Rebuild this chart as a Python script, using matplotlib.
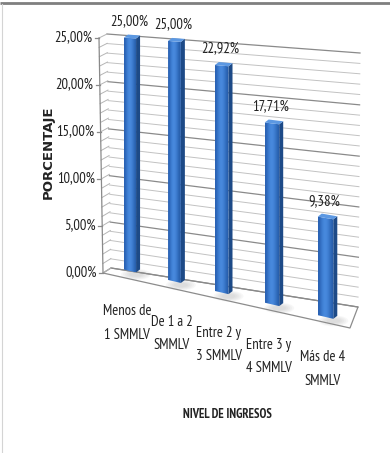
import numpy as np
import matplotlib.pyplot as plt
from matplotlib.patches import Polygon, Ellipse
from matplotlib.transforms import Transform

categories = ["Menos de\n1 SMMLV", "De 1 a 2\nSMMLV", "Entre 2 y\n3 SMMLV",
              "Entre 3 y\n4 SMMLV", "Más de 4\nSMMLV"]
values = [25.00, 25.00, 22.92, 17.71, 9.38]
ticks = [0, 5, 10, 15, 20, 25]
vmax = 25

NARROW = ['PT Sans Narrow', 'Roboto Condensed', 'DejaVu Sans']
TXT = '#222222'


class Perspective(Transform):
    """Maps a flat (u, v) plane onto a quadrilateral in pixel space."""
    input_dims = output_dims = 2

    def __init__(self, src, dst):
        super().__init__()
        A, b = [], []
        for (x, y), (X, Y) in zip(src, dst):
            A.append([x, y, 1, 0, 0, 0, -X * x, -X * y]); b.append(X)
            A.append([0, 0, 0, x, y, 1, -Y * x, -Y * y]); b.append(Y)
        h = np.linalg.solve(np.array(A, float), np.array(b, float))
        self.H = np.append(h, 1).reshape(3, 3)

    def transform_non_affine(self, pts):
        pts = np.atleast_2d(np.asarray(pts, float))
        q = np.column_stack([pts, np.ones(len(pts))]) @ self.H.T
        return q[:, :2] / q[:, 2:]


unit = [(0, 0), (0, vmax), (1, 0), (1, vmax)]
back_wall = Perspective(unit, [(111, 268), (107, 34), (358, 307), (360, 53)])
side_wall = Perspective(unit, [(103, 273), (99, 38), (111, 268), (107, 34)])
n = len(values)
bar_plane = Perspective([(0, 0), (0, vmax), (n - 1, 0), (n - 1, vmax)],
                        [(130, 271), (130, 38), (325.5, 317), (325.5, 53)])

fig = plt.figure(figsize=(3.9, 4.53), dpi=100)
ax = fig.add_axes([0, 0, 1, 1])
ax.set_xlim(0, 390)
ax.set_ylim(453, 0)
ax.axis('off')

# frame
ax.plot([0, 390], [3, 3], color='#7f7f7f', lw=2.0, solid_capstyle='butt')
ax.plot([1.5, 1.5], [4, 453], color='#d4d4d4', lw=0.8)

# floor
floor = [(111, 268), (358, 307), (350, 328), (103, 273)]
ax.add_patch(Polygon(floor, closed=True, facecolor='white',
                     edgecolor='#8c8c8c', lw=0.9, zorder=1))

# gridlines on the back and side walls
for v in range(0, vmax + 1):
    major = v % 5 == 0
    col = '#8a8a8a' if major else '#c2c2c2'
    lw = 0.9 if major else 0.7
    ax.plot([0, 1], [v, v], transform=back_wall + ax.transData,
            color=col, lw=lw, zorder=2)
    ax.plot([0, 1], [v, v], transform=side_wall + ax.transData,
            color='#b5b5b5', lw=0.7, zorder=2)

# vertical axis line, ticks and labels
ax.plot([0, 0], [0, vmax], transform=side_wall + ax.transData,
        color='#8a8a8a', lw=0.9, zorder=3)
for t in ticks:
    x, y = side_wall.transform([(0, t)])[0]
    ax.plot([x - 4, x], [y, y], color='#8a8a8a', lw=0.9, zorder=3)
    ax.text(x - 6.5, y - 1, f"{t:.2f}".replace('.', ',') + '%',
            ha='right', va='center', fontsize=10.5, family=NARROW, color=TXT)

# bars
hw = 0.14
off = np.array([4.0, -3.0])
grad = np.array([[[0.16, 0.38, 0.70], [0.24, 0.49, 0.82], [0.29, 0.55, 0.88],
                  [0.27, 0.52, 0.85], [0.20, 0.44, 0.76], [0.15, 0.36, 0.66]]])
for i, val in enumerate(values):
    fl0, fr0, frt, flt = bar_plane.transform(
        [(i - hw, 0), (i + hw, 0), (i + hw, val), (i - hw, val)])

    # soft shadow on the floor
    for k in range(5):
        ax.add_patch(Ellipse(fr0 + np.array([0, 2]), 30 - 4 * k, 11 - 1.6 * k,
                             facecolor='#9a9a9a', edgecolor='none',
                             alpha=0.07, zorder=4))

    side = Polygon([fr0, frt, frt + off, fr0 + off], closed=True,
                   facecolor='#1d4a87', edgecolor='none', zorder=5)
    top = Polygon([flt, frt, frt + off, flt + off], closed=True,
                  facecolor='#5c98e2', edgecolor='none', zorder=6)
    front = Polygon([fl0, fr0, frt, flt], closed=True,
                    facecolor='none', edgecolor='none', zorder=5)
    ax.add_patch(side)
    ax.add_patch(top)
    ax.add_patch(front)
    im = ax.imshow(grad, extent=(fl0[0], fr0[0], fr0[1], flt[1]),
                   aspect='auto', interpolation='bicubic', zorder=5)
    im.set_clip_path(front)

    # value label
    lx, ly = bar_plane.transform([(i, val)])[0]
    ax.text(lx - 1, ly - 17, f"{val:.2f}".replace('.', ',') + '%',
            ha='center', va='center', fontsize=10.5, family=NARROW, color=TXT,
            zorder=7)

    # category label
    cx, cy = bar_plane.transform([(i, 0)])[0]
    ax.text(cx - 3, cy + 52, categories[i], ha='center', va='center',
            fontsize=10.5, family=NARROW, color=TXT, linespacing=1.85)

ax.set_xlim(0, 390)
ax.set_ylim(453, 0)

ax.text(48, 152, 'PORCENTAJE', rotation=90, ha='center', va='center',
        fontsize=9.5, fontweight='bold', family='DejaVu Sans', color=TXT)
ax.text(227, 415, 'NIVEL DE INGRESOS', ha='center', va='center',
        fontsize=9, fontweight='bold', family=NARROW, color=TXT)

fig.savefig('out.png', dpi=100)
